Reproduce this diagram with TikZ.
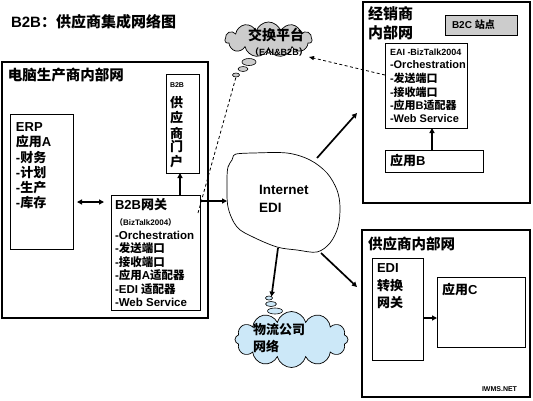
\documentclass[tikz,border=0pt]{standalone}
\usepackage{fontspec}
\setmainfont{Liberation Sans}
\newfontfamily\cjk{Noto Sans CJK SC}
\usetikzlibrary{shapes.symbols,shapes.geometric,arrows.meta}
\newcommand\zh[1]{{\cjk\bfseries #1}}
\newcommand\fs[1]{\fontsize{#1}{#1}\selectfont\bfseries}
\definecolor{xgray}{RGB}{204,204,204}
\definecolor{lblue}{RGB}{204,232,248}
\begin{document}
\begin{tikzpicture}[x=1pt,y=-1pt,
  box/.style={draw,line width=0.8pt,inner sep=0pt,outer sep=0pt,anchor=north west},
  outerbox/.style={draw,line width=1.4pt,inner sep=0pt,outer sep=0pt,anchor=north west},
  t/.style={anchor=west,inner sep=0pt,outer sep=0pt},
  tc/.style={anchor=center,inner sep=0pt,outer sep=0pt},
  arr/.style={line width=1.7pt,-{Triangle[length=5pt,width=5pt]}},
  darr/.style={line width=1.7pt,{Triangle[length=5pt,width=5pt]}-{Triangle[length=5pt,width=5pt]}},
  dashln/.style={line width=0.8pt,dash pattern=on 3pt off 2.5pt},
  bubble/.style={ellipse,draw,line width=0.6pt,inner sep=0pt,outer sep=0pt},
]
\useasboundingbox (0,0) rectangle (533,400);
\fill[white] (0,0) rectangle (533,400);

% title
\node[t,font=\fs{15}] (title) at (11,21.5) {B2B\zh{：供应商集成网络图}};

% ---- manufacturer network
\node[outerbox,minimum width=206,minimum height=256] (pc) at (2,62) {};
\node[t,font=\fs{14.5}] (pct) at (8,75) {\zh{电脑生产商内部网}};
\node[box,minimum width=63,minimum height=135] (erp) at (10,114) {};
\node[t,font=\fs{13}] (erp1) at (16,127) {ERP};
\node[t,font=\fs{13}] (erp2) at (16,142) {\zh{应用}A};
\node[t,font=\fs{13}] (erp3) at (16,158) {-\zh{财务}};
\node[t,font=\fs{13}] (erp4) at (16,173) {-\zh{计划}};
\node[t,font=\fs{13}] (erp5) at (16,188) {-\zh{生产}};
\node[t,font=\fs{13}] (erp6) at (16,203) {-\zh{库存}};

\node[box,minimum width=33,minimum height=99] (portal) at (166,74) {};
\node[t,font=\fs{7}] (p0) at (170,85) {B2B};
\node[t,font=\fs{13}] (p1) at (170,103) {\zh{供}};
\node[t,font=\fs{13}] (p2) at (170,118) {\zh{应}};
\node[t,font=\fs{13}] (p3) at (170,133) {\zh{商}};
\node[t,font=\fs{13}] (p4) at (170,147) {\zh{门}};
\node[t,font=\fs{13}] (p5) at (170,162) {\zh{户}};

\node[box,minimum width=89,minimum height=115] (gw) at (111,195) {};
\node[t,font=\fs{13}] (g0) at (115,205) {B2B\zh{网关}};
\node[t,font=\fs{8}] (g1) at (115,222) {\zh{（}BizTalk2004\zh{）}};
\node[t,font=\fs{11.5}] (g2) at (115,235) {-Orchestration};
\node[t,font=\fs{11.5}] (g3) at (115,248.5) {-\zh{发送端口}};
\node[t,font=\fs{11.5}] (g4) at (115,262) {-\zh{接收端口}};
\node[t,font=\fs{11.5}] (g5) at (115,275.5) {-\zh{应用}A\zh{适配器}};
\node[t,font=\fs{11.5}] (g6) at (115,289) {-EDI \zh{适配器}};
\node[t,font=\fs{11.5}] (g7) at (115,302.5) {-Web Service};

% ---- dealer network
\node[outerbox,minimum width=167,minimum height=201] (dealer) at (363,2) {};
\node[t,font=\fs{15}] (d1) at (368,14) {\zh{经销商}};
\node[t,font=\fs{15}] (d2) at (368,33) {\zh{内部网}};
\node[box,fill=xgray,minimum width=72,minimum height=20] (b2c) at (445,15) {};
\node[t,font=\fs{10}] (b2ct) at (452,25) {B2C \zh{站点}};
\node[box,minimum width=82,minimum height=85] (eai) at (385,43) {};
\node[t,font=\fs{9}] (e0) at (390,52) {EAI -BizTalk2004};
\node[t,font=\fs{11}] (e1) at (390,65) {-Orchestration};
\node[t,font=\fs{11}] (e2) at (390,78.5) {-\zh{发送端口}};
\node[t,font=\fs{11}] (e3) at (390,92) {-\zh{接收端口}};
\node[t,font=\fs{11}] (e4) at (390,105.5) {-\zh{应用}B\zh{适配器}};
\node[t,font=\fs{11}] (e5) at (390,119) {-Web Service};
\node[box,minimum width=98,minimum height=22] (appb) at (385,150) {};
\node[t,font=\fs{13}] (appbt) at (390,161) {\zh{应用}B};

% ---- supplier network
\node[outerbox,minimum width=168,minimum height=167] (sup) at (362,230) {};
\node[t,font=\fs{14.5}] (supt) at (368,244) {\zh{供应商内部网}};
\node[box,minimum width=51,minimum height=102] (edi) at (372,258) {};
\node[t,font=\fs{13}] (edi1) at (377,268) {EDI};
\node[t,font=\fs{13}] (edi2) at (377,286) {\zh{转换}};
\node[t,font=\fs{13}] (edi3) at (377,303) {\zh{网关}};
\node[box,minimum width=88,minimum height=70] (appc) at (437,277) {};
\node[t,font=\fs{13}] (appct) at (442,290) {\zh{应用}C};
\node[t,font=\fs{7}] (wm) at (482,389) {IWMS.NET};

% ---- exchange platform cloud
\node[cloud,cloud puffs=11,aspect=2.4,draw,line width=0.7pt,fill=xgray,minimum width=87,minimum height=35,inner sep=0pt] (xc) at (268.5,39.5) {};
\node[tc,font=\fs{14}] (xct) at (276,35) {\zh{交换平台}};
\node[tc,font=\fs{9}] (xcs) at (279,52) {\zh{（}EAI\&B2B\zh{）}};
\node[bubble,fill=xgray,minimum width=14,minimum height=7] (xb1) at (249,62) {};
\node[bubble,fill=xgray,minimum width=10,minimum height=5] (xb2) at (243,69) {};
\node[bubble,fill=xgray,minimum width=7,minimum height=4] (xb3) at (236,75) {};

% ---- logistics cloud
\node[cloud,cloud puffs=12,aspect=2,draw,line width=0.7pt,fill=lblue,minimum width=113,minimum height=56,inner sep=0pt] (lc) at (291.5,339.5) {};
\node[t,font=\fs{13}] (lct1) at (253,330) {\zh{物流公司}};
\node[t,font=\fs{13}] (lct2) at (253,346) {\zh{网络}};
\node[bubble,fill=lblue,minimum width=15,minimum height=6] (lb3) at (275,311) {};
\node[bubble,fill=lblue,minimum width=11,minimum height=5] (lb2) at (271,304) {};
\node[bubble,fill=lblue,minimum width=7,minimum height=4] (lb1) at (269,298) {};

% ---- Internet cloud
\draw[line width=0.7pt,fill=white] plot[smooth cycle,tension=0.55] coordinates {
 (233,157) (236,154) (253,153) (287,153) (310,160) (327,173) (337,190) (340,207)
 (338,227) (330,243) (317,252) (297,250) (277,247) (253,237) (237,227) (228,207)
 (227,180) (228,167) (232,160)};
\node[t,font=\fs{13.5}] (inet1) at (259,190) {Internet};
\node[t,font=\fs{13.5}] (inet2) at (259,208) {EDI};
\coordinate (iL) at (227,201);
\coordinate (iTR) at (317,158);
\coordinate (iBR) at (321,253);
\coordinate (iB) at (278,248);
\coordinate (dIn) at (357,113);
\coordinate (sIn) at (357,287);

% ---- connectors
\coordinate (da) at (77,202);
\coordinate (db) at (104,202);
\draw[darr] (da) -- (db);
\draw[arr] ([xshift=24.5pt]gw.north) -- ([xshift=-2.5pt]portal.south);
\draw[arr] ([yshift=51.5pt]gw.east) -- (iL);
\draw[arr] (iTR) -- (dIn);
\draw[arr] (iBR) -- (sIn);
\draw[arr] (iB) -- (lb1.north east);
\draw[arr] ([xshift=-2pt]appb.north) -- ([xshift=6pt]eai.south);
\draw[arr] ([yshift=-9pt]edi.east) -- ([yshift=-6pt]appc.west);
\coordinate (dl) at (198,213);
\draw[dashln] (dl) -- (xb3.south);
\coordinate (xce) at (309,57);
\draw[dashln,-{Triangle[length=5pt,width=4pt]}] ([yshift=10.5pt]eai.west) -- (xce);
\end{tikzpicture}
\end{document}
